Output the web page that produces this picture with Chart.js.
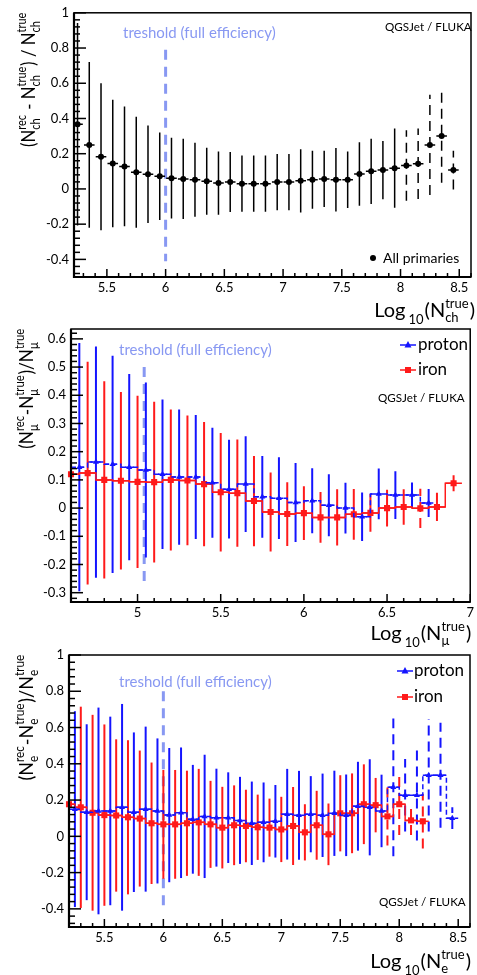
<!DOCTYPE html>
<html>
<head>
<meta charset="utf-8">
<script src="https://cdn.jsdelivr.net/npm/chart.js@4.4.1/dist/chart.umd.min.js"></script>
<style>
html, body { margin: 0; padding: 0; background: #fff; }
#wrap { position: relative; width: 477px; height: 975px; overflow: hidden; }
#wrap canvas { position: absolute; left: 0; top: 0; }
</style>
</head>
<body>
<div id="wrap">
  <canvas id="cCh" width="477" height="975"></canvas>
  <canvas id="cMu" width="477" height="975"></canvas>
  <canvas id="cE" width="477" height="975"></canvas>
</div>
<script>
/* ======= Data: charged particles, all primaries ======= */
const chX   = [5.25,5.35,5.45,5.55,5.65,5.75,5.85,5.95,6.05,6.15,6.25,6.35,6.45,6.55,6.65,6.75,6.85,
               6.95,7.05,7.15,7.25,7.35,7.45,7.55,7.65,7.75,7.85,7.95,8.05,8.15,8.25,8.35,8.45];
const chVal = [0.367,0.25,0.183,0.144,0.128,0.095,0.083,0.072,0.061,0.057,0.052,0.044,0.033,0.039,0.03,0.03,0.03,
               0.039,0.039,0.046,0.052,0.057,0.052,0.052,0.085,0.1,0.107,0.118,0.133,0.143,0.25,0.3,0.107];
const chErr = [0.575,0.47,0.417,0.362,0.34,0.315,0.277,0.248,0.229,0.228,0.21,0.19,0.18,0.17,0.16,0.16,0.16,
               0.16,0.16,0.18,0.165,0.16,0.18,0.16,0.18,0.185,0.165,0.225,0.2,0.2,0.285,0.265,0.11];
const chXTicks = [5.5,6,6.5,7,7.5,8,8.5];
const chYTicks = [-0.4,-0.2,0,0.2,0.4,0.6,0.8,1];

/* ======= Data: muons ======= */
const muFeX   = [4.6,4.7,4.8,4.9,5.0,5.1,5.2,5.3,5.4,5.5,5.6,5.7,5.8,5.9,6.0,6.1,6.2,6.3,6.4,6.5,6.6,6.7,6.8,6.9];
const muFeVal = [0.12,0.124,0.1,0.097,0.093,0.092,0.1,0.098,0.085,0.056,0.053,0.025,-0.014,-0.021,-0.018,-0.033,
                 -0.033,-0.022,-0.017,0.0,0.004,-0.001,0.004,0.088];
const muFeErr = [0.44,0.395,0.35,0.315,0.305,0.285,0.25,0.23,0.22,0.21,0.19,0.16,0.14,0.113,0.095,0.09,
                 0.1,0.09,0.067,0.065,0.063,0.07,0.05,0.028];
const muPX   = [4.65,4.75,4.85,4.95,5.05,5.15,5.25,5.35,5.45,5.55,5.65,5.75,5.85,5.95,6.05,6.15,6.25,6.35,6.45,6.55,6.65,6.75];
const muPVal = [0.145,0.163,0.155,0.145,0.135,0.12,0.11,0.11,0.09,0.067,0.085,0.04,0.035,0.02,0.026,0.01,0.0,
                -0.031,0.05,0.046,0.046,0.018];
const muPErr = [0.44,0.41,0.385,0.33,0.31,0.265,0.24,0.22,0.195,0.175,0.17,0.145,0.145,0.14,0.115,0.11,0.09,
                0.086,0.09,0.085,0.045,0.05];
const muXTicks = [5,5.5,6,6.5,7];
const muYTicks = [-0.3,-0.2,-0.1,0,0.1,0.2,0.3,0.4,0.5,0.6];

/* ======= Data: electrons ======= */
const eFeX   = [5.2,5.3,5.4,5.5,5.6,5.7,5.8,5.9,6.0,6.1,6.2,6.3,6.4,6.5,6.6,6.7,6.8,6.9,7.0,7.1,7.2,7.3,7.4,
                7.5,7.6,7.7,7.8,7.9,8.0,8.1,8.2];
const eFeVal = [0.177,0.16,0.13,0.117,0.115,0.105,0.098,0.072,0.066,0.066,0.072,0.077,0.066,0.048,0.061,0.057,
                0.05,0.048,0.038,0.057,0.022,0.061,0.011,0.127,0.127,0.177,0.172,0.11,0.177,0.088,0.083];
const eFeErr = [0.54,0.555,0.54,0.5,0.42,0.425,0.375,0.335,0.3,0.3,0.29,0.295,0.24,0.225,0.22,0.2,
                0.18,0.16,0.18,0.215,0.155,0.19,0.17,0.21,0.22,0.22,0.15,0.16,0.17,0.08,0.15];
const ePX   = [5.25,5.35,5.45,5.55,5.65,5.75,5.85,5.95,6.05,6.15,6.25,6.35,6.45,6.55,6.65,6.75,6.85,
               6.95,7.05,7.15,7.25,7.35,7.45,7.55,7.65,7.75,7.85,7.95,8.05,8.15,8.25,8.35,8.45];
const ePVal = [0.15,0.133,0.14,0.14,0.16,0.133,0.15,0.14,0.117,0.13,0.094,0.11,0.103,0.103,0.088,0.072,0.077,
               0.083,0.122,0.116,0.122,0.116,0.127,0.116,0.166,0.16,0.14,0.27,0.227,0.227,0.337,0.337,0.1];
const ePErr = [0.54,0.485,0.57,0.52,0.57,0.44,0.455,0.4,0.37,0.36,0.3,0.34,0.27,0.25,0.24,0.23,0.22,
               0.2,0.25,0.245,0.21,0.23,0.235,0.225,0.245,0.265,0.2,0.38,0.2,0.25,0.31,0.29,0.06];
const eXTicks = [5.5,6,6.5,7,7.5,8,8.5];
const eYTicks = [-0.4,-0.2,0,0.2,0.4,0.6,0.8,1];

/* ======= Style ======= */
const FONT = 'Lato, "Noto Sans", sans-serif';
const BLUE = '#1414ff', RED = '#ff1a1a', BLACK = '#000', THR = '#8898f2';
const BIG = '20px ' + FONT, SMALL = '13px ' + FONT;

function pts(xs, ys) { return xs.map((x, i) => ({ x: x, y: ys[i] })); }

/* rich text: strings in big font, {sup,sub} stacked in small font */
function richWidth(ctx, parts) {
  let w = 0;
  for (const p of parts) {
    if (typeof p === 'string') { ctx.font = BIG; w += ctx.measureText(p).width; }
    else {
      ctx.font = SMALL;
      w += Math.max(p.sup ? ctx.measureText(p.sup).width : 0, p.sub ? ctx.measureText(p.sub).width : 0) + (p.gap || 1) + (p.pre || 0);
    }
  }
  return w;
}
function richDraw(ctx, parts, x, y) {
  for (const p of parts) {
    if (typeof p === 'string') { ctx.font = BIG; ctx.fillText(p, x, y); x += ctx.measureText(p).width; }
    else {
      ctx.font = SMALL;
      let w = 0;
      const x0 = x + (p.pre || 0);
      if (p.sup) { ctx.fillText(p.sup, x0, y - 9); w = ctx.measureText(p.sup).width; }
      if (p.sub) { ctx.fillText(p.sub, x0, y + (p.subDy || 5)); w = Math.max(w, ctx.measureText(p.sub).width); }
      x += w + (p.gap || 1) + (p.pre || 0);
    }
  }
}

function txt(ctx, s, x, y, size, color, sx) {
  ctx.save();
  ctx.font = size + 'px ' + FONT;
  ctx.fillStyle = color;
  ctx.textBaseline = 'middle';
  ctx.translate(x, y);
  ctx.scale(sx || 1, 1);
  ctx.fillText(s, 0, 0);
  ctx.restore();
}

/* ======= ROOT look: error bars, frame, inward ticks, labels ======= */
const rootPlugin = {
  id: 'rootStyle',
  beforeDatasetsDraw(chart, args, o) {
    const { ctx, chartArea: a } = chart;
    const x = chart.scales.x, y = chart.scales.y;
    ctx.save();
    ctx.beginPath();
    ctx.rect(a.left, a.top, a.right - a.left, a.bottom - a.top);
    ctx.clip();

    // threshold line
    const tx = x.getPixelForValue(o.thr);
    ctx.strokeStyle = THR; ctx.lineWidth = 3; ctx.setLineDash([10, 7]);
    ctx.beginPath();
    ctx.moveTo(tx, y.getPixelForValue(o.thrTop));
    ctx.lineTo(tx, y.getPixelForValue(o.thrBottom));
    ctx.stroke();

    // error bars
    chart.data.datasets.forEach(ds => {
      ctx.strokeStyle = ds.borderColor;
      ds.data.forEach((p, i) => {
        const e = ds.errors[i];
        const px = x.getPixelForValue(p.x), py = y.getPixelForValue(p.y);
        const dashed = p.x >= ds.dashFrom && p.x <= ds.dashTo;
        ctx.lineWidth = ds.errWidth;
        ctx.setLineDash(dashed ? [10, 6] : []);
        ctx.beginPath();
        ctx.moveTo(px, y.getPixelForValue(p.y - e));
        ctx.lineTo(px, y.getPixelForValue(p.y + e));
        ctx.stroke();
        ctx.lineWidth = ds.borderWidth;
        ctx.setLineDash(ds.borderDash || []);
        ctx.beginPath();
        ctx.moveTo(x.getPixelForValue(p.x - ds.halfBin), py);
        ctx.lineTo(x.getPixelForValue(p.x + ds.halfBin), py);
        ctx.stroke();
      });
    });
    ctx.restore();
  },
  afterDraw(chart, args, o) {
    const { ctx, chartArea: a } = chart;
    const x = chart.scales.x, y = chart.scales.y;
    ctx.save();
    ctx.strokeStyle = '#000';

    // frame
    ctx.lineWidth = 1.5;
    ctx.strokeRect(a.left, a.top, a.right - a.left, a.bottom - a.top);
    ctx.lineWidth = 2.2;
    ctx.beginPath();
    ctx.moveTo(a.left, a.top); ctx.lineTo(a.left, a.bottom); ctx.lineTo(a.right, a.bottom);
    ctx.stroke();

    // inward ticks
    ctx.lineWidth = 1.5;
    const tick = (scale, step, major, lenMaj, lenMin, vertical) => {
      const k0 = Math.ceil(scale.min / step - 1e-6), k1 = Math.floor(scale.max / step + 1e-6);
      for (let k = k0; k <= k1; k++) {
        const v = k * step;
        const r = v / major;
        const isMaj = Math.abs(r - Math.round(r)) < 1e-6;
        const len = isMaj ? lenMaj : lenMin;
        const p = scale.getPixelForValue(v);
        ctx.beginPath();
        if (vertical) { ctx.moveTo(a.left, p); ctx.lineTo(a.left + len, p); }
        else { ctx.moveTo(p, a.bottom); ctx.lineTo(p, a.bottom - len); }
        ctx.stroke();
      }
    };
    tick(y, o.yMinor, o.yMajor, 12, 6, true);
    tick(x, 0.1, 0.5, 8, 4, false);

    // threshold label, model label
    txt(ctx, 'treshold (full efficiency)', o.thrText[0], o.thrText[1], 15, THR);
    txt(ctx, 'QGSJet / FLUKA', o.model[0], o.model[1], 12, '#000', 0.97);

    // legend
    o.legend.forEach(l => {
      ctx.fillStyle = l.color; ctx.strokeStyle = l.color;
      if (l.line) {
        ctx.lineWidth = 1.5; ctx.setLineDash([]);
        ctx.beginPath(); ctx.moveTo(l.x - 8, l.y); ctx.lineTo(l.x + 8, l.y); ctx.stroke();
      }
      ctx.beginPath();
      if (l.marker === 'circle') ctx.arc(l.x, l.y, 3, 0, Math.PI * 2);
      else if (l.marker === 'rect') ctx.rect(l.x - 3, l.y - 3, 6, 6);
      else { ctx.moveTo(l.x, l.y - 4); ctx.lineTo(l.x + 3.5, l.y + 2.5); ctx.lineTo(l.x - 3.5, l.y + 2.5); ctx.closePath(); }
      ctx.fill();
      txt(ctx, l.text, l.tx, l.y, l.size, '#000');
    });

    // axis titles
    ctx.fillStyle = '#000';
    ctx.textBaseline = 'alphabetic';
    const wx = richWidth(ctx, o.xTitle);
    richDraw(ctx, o.xTitle, a.right + o.xTitleDx - wx, o.xTitleY);

    const wy = richWidth(ctx, o.yTitle);
    ctx.translate(o.yTitleX, a.top - 1);
    ctx.rotate(-Math.PI / 2);
    ctx.scale(o.yTitleSx, 1);
    richDraw(ctx, o.yTitle, -wy, 0);
    ctx.restore();
  }
};

function panel(id, o) {
  return new Chart(document.getElementById(id), {
    type: 'line',
    data: { datasets: o.datasets },
    options: {
      responsive: false,
      animation: false,
      events: [],
      devicePixelRatio: 1,
      layout: { padding: { top: o.top, right: 477 - o.right, left: 0, bottom: 0 } },
      scales: {
        x: {
          type: 'linear', min: o.xMin, max: o.xMax,
          afterFit: s => { s.height = 975 - o.bottom; },
          afterBuildTicks: s => { s.ticks = o.xTicks.map(v => ({ value: v })); },
          ticks: { padding: 3, color: '#000', font: { family: FONT, size: 13 }, maxRotation: 0, autoSkip: false,
                   callback: v => String(v) },
          grid: { display: false, drawTicks: false },
          border: { display: false }
        },
        y: {
          type: 'linear', min: o.yMin, max: o.yMax,
          afterFit: s => { s.width = o.left; },
          afterBuildTicks: s => { s.ticks = o.yTicks.map(v => ({ value: v })); },
          ticks: { padding: 5, color: '#000', font: { family: FONT, size: 13 }, autoSkip: false,
                   callback: v => String(v) },
          grid: { display: false, drawTicks: false },
          border: { display: false }
        }
      },
      plugins: { legend: { display: false }, tooltip: { enabled: false }, rootStyle: o.deco }
    },
    plugins: [rootPlugin]
  });
}

function series(label, xs, ys, es, color, style, dashed, extra) {
  return Object.assign({
    label: label,
    data: pts(xs, ys),
    errors: es,
    borderColor: color,
    backgroundColor: color,
    borderWidth: 1.5,
    borderDash: dashed ? [5, 3] : [],
    errWidth: 2,
    halfBin: 0.05,
    stepped: 'middle',
    pointStyle: style,
    pointRadius: style === 'rect' ? 4.3 : 3.5,
    pointBorderWidth: 0,
    pointBackgroundColor: color,
    clip: 8,
    dashFrom: 99, dashTo: 99
  }, extra || {});
}

/* ======= Panel 1: N_ch ======= */
panel('cCh', {
  left: 74, top: 7, right: 471, bottom: 277,
  xMin: 5.22, xMax: 8.6, yMin: -0.5, yMax: 1,
  xTicks: chXTicks, yTicks: chYTicks,
  datasets: [
    series('All primaries', chX, chVal, chErr, BLACK, 'circle', false,
           { showLine: false, pointRadius: 3, errWidth: 1.5, halfBin: 0.045, dashFrom: 8.0, dashTo: 9 })
  ],
  deco: {
    thr: 6, thrTop: 0.79, thrBottom: -0.41,
    yMinor: 0.04, yMajor: 0.2,
    thrText: [123, 33], model: [385, 27],
    legend: [{ marker: 'circle', color: BLACK, x: 373, y: 258, text: 'All primaries', tx: 383, size: 14 }],
    xTitle: ['Log', { sub: '10', pre: 3, subDy: 7 }, '(N', { sup: 'true', sub: 'ch' }, ')'],
    xTitleY: 317, xTitleDx: 4,
    yTitle: ['(N', { sup: 'rec', sub: 'ch' }, ' - N', { sup: 'true', sub: 'ch' }, ') / N', { sup: 'true', sub: 'ch' }],
    yTitleX: 35, yTitleSx: 0.84
  }
});

/* ======= Panel 2: N_mu ======= */
panel('cMu', {
  left: 71, top: 329, right: 473, bottom: 602,
  xMin: 4.6, xMax: 7.0, yMin: -0.333, yMax: 0.635,
  xTicks: muXTicks, yTicks: muYTicks,
  datasets: [
    series('proton', muPX, muPVal, muPErr, BLUE, 'triangle', true),
    series('iron', muFeX, muFeVal, muFeErr, RED, 'rect', false, { dashFrom: 6.65, dashTo: 6.75 })
  ],
  deco: {
    thr: 5.04, thrTop: 0.5, thrBottom: -0.28,
    yMinor: 0.02, yMajor: 0.1,
    thrText: [119, 350], model: [378, 398],
    legend: [
      { marker: 'triangle', line: true, color: BLUE, x: 408, y: 345, text: 'proton', tx: 418, size: 17 },
      { marker: 'rect', line: true, color: RED, x: 408, y: 370, text: 'iron', tx: 418, size: 17 }
    ],
    xTitle: ['Log', { sub: '10', pre: 3, subDy: 7 }, '(N', { sup: 'true', sub: 'μ' }, ')'],
    xTitleY: 640, xTitleDx: 1,
    yTitle: ['(N', { sup: 'rec', sub: 'μ' }, '-N', { sup: 'true', sub: 'μ' }, ')/N', { sup: 'true', sub: 'μ' }],
    yTitleX: 33, yTitleSx: 0.86
  }
});

/* ======= Panel 3: N_e ======= */
panel('cE', {
  left: 69, top: 655, right: 470, bottom: 927,
  xMin: 5.2, xMax: 8.6, yMin: -0.5, yMax: 1,
  xTicks: eXTicks, yTicks: eYTicks,
  datasets: [
    series('proton', ePX, ePVal, ePErr, BLUE, 'triangle', true, { dashFrom: 7.9, dashTo: 9 }),
    series('iron', eFeX, eFeVal, eFeErr, RED, 'rect', false, { dashFrom: 7.9, dashTo: 9 })
  ],
  deco: {
    thr: 6, thrTop: 0.8, thrBottom: -0.415,
    yMinor: 0.04, yMajor: 0.2,
    thrText: [119, 682], model: [379, 902],
    legend: [
      { marker: 'triangle', line: true, color: BLUE, x: 405, y: 671, text: 'proton', tx: 414, size: 17 },
      { marker: 'rect', line: true, color: RED, x: 405, y: 697, text: 'iron', tx: 414, size: 17 }
    ],
    xTitle: ['Log', { sub: '10', pre: 3, subDy: 7 }, '(N', { sup: 'true', sub: 'e' }, ')'],
    xTitleY: 968, xTitleDx: 1,
    yTitle: ['(N', { sup: 'rec', sub: 'e' }, '-N', { sup: 'true', sub: 'e' }, ')/N', { sup: 'true', sub: 'e' }],
    yTitleX: 33, yTitleSx: 0.9
  }
});
</script>
</body>
</html>
